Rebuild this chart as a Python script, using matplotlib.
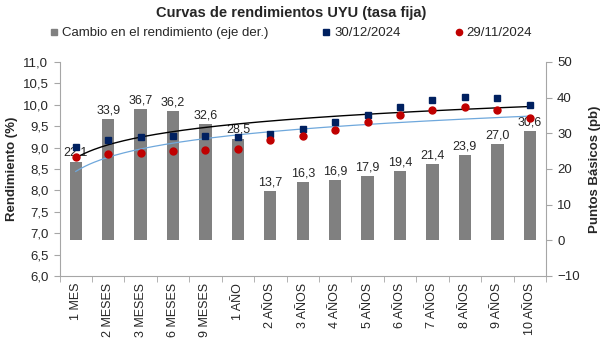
import numpy as np
import matplotlib
matplotlib.use("Agg")
import matplotlib.pyplot as plt
from matplotlib.lines import Line2D
from matplotlib.ticker import FuncFormatter, FixedLocator

plt.rcParams['font.family'] = ['Liberation Sans', 'DejaVu Sans']

categories = ["1 MES", "2 MESES", "3 MESES", "6 MESES", "9 MESES", "1 AÑO",
              "2 AÑOS", "3 AÑOS", "4 AÑOS", "5 AÑOS", "6 AÑOS", "7 AÑOS",
              "8 AÑOS", "9 AÑOS", "10 AÑOS"]
yield_dec = [9.02, 9.18, 9.25, 9.28, 9.26, 9.25, 9.31, 9.43, 9.59, 9.77,
             9.96, 10.11, 10.19, 10.16, 9.99]
yield_nov = [8.79, 8.85, 8.88, 8.92, 8.94, 8.97, 9.17, 9.26, 9.42, 9.60,
             9.77, 9.89, 9.94, 9.88, 9.68]
change_bp = [22.1, 33.9, 36.7, 36.2, 32.6, 28.5, 13.7, 16.3, 16.9, 17.9,
             19.4, 21.4, 23.9, 27.0, 30.6]

label_dec = "30/12/2024"
label_nov = "29/11/2024"
label_bar = "Cambio en el rendimiento (eje der.)"

GRAY = "#808080"
NAVY = "#002060"
RED = "#C00000"
SPINE = "#A6A6A6"
TXT = "#262626"

fig = plt.figure(figsize=(6.03, 3.52), dpi=100)
ax = fig.add_axes([59.5 / 603, 1 - 276 / 352, 486.5 / 603, 214 / 352])
ax2 = ax.twinx()

x = np.arange(len(categories))

# bars on right axis
bars = ax2.bar(x, change_bp, width=0.38, color=GRAY, zorder=2)
ax2.bar_label(bars, labels=[f"{v:.1f}".replace(".", ",") for v in change_bp],
              padding=2, fontsize=9, color=TXT)
ax2.set_ylim(-10, 50)
ax2.yaxis.set_major_locator(FixedLocator(np.arange(-10, 51, 10)))

# left axis: markers and log trendlines
ax.set_zorder(ax2.get_zorder() + 1)
ax.patch.set_visible(False)

xi = np.arange(1, len(categories) + 1)
xs = np.linspace(1, len(categories), 200)
for ys, col, lw in [(yield_dec, "black", 1.0), (yield_nov, "#6FA8DC", 0.9)]:
    a, b = np.polyfit(np.log(xi), np.array(ys), 1)
    ax.plot(xs - 1, a * np.log(xs) + b, color=col, lw=lw, zorder=2)

ax.plot(x, yield_dec, linestyle="none", marker="s", ms=4.6, color=NAVY, zorder=3)
ax.plot(x, yield_nov, linestyle="none", marker="o", ms=5.0, color=RED, zorder=3)

ax.set_ylim(6, 11)
ax.yaxis.set_major_locator(FixedLocator(np.arange(6, 11.01, 0.5)))
ax.yaxis.set_major_formatter(FuncFormatter(lambda v, p: f"{v:.1f}".replace(".", ",")))
ax.set_xlim(-0.5, len(categories) - 0.5)
ax.set_xticks(x)
ax.set_xticklabels(categories, rotation=90, fontsize=9, color=TXT)
ax.set_xticks(np.arange(-0.5, len(categories), 1), minor=True)
ax.tick_params(axis="x", which="major", length=0, pad=5)
ax.tick_params(axis="x", which="minor", length=4, color=SPINE, direction="out")
ax.tick_params(axis="y", length=4, color=SPINE, labelsize=9.5, labelcolor=TXT, pad=4)
ax2.tick_params(axis="y", length=4, color=SPINE, labelsize=9.5, labelcolor=TXT, pad=4)

for a_ in (ax, ax2):
    a_.spines["top"].set_visible(False)
    for s in ("left", "right", "bottom"):
        a_.spines[s].set_color(SPINE)
ax.spines["right"].set_visible(False)
ax2.spines["left"].set_visible(False)
ax2.spines["bottom"].set_visible(False)

ax.set_ylabel("Rendimiento (%)", fontsize=9.5, fontweight="bold", color=TXT, labelpad=3)
ax2.set_ylabel("Puntos Básicos (pb)", fontsize=9.5, fontweight="bold", color=TXT,
               rotation=90, labelpad=7)

fig.text(0.483, 0.963, "Curvas de rendimientos UYU (tasa fija)", ha="center",
         va="center", fontsize=10.5, fontweight="bold", color=TXT)

handles = [
    Line2D([], [], linestyle="none", marker="s", ms=4.5, color=GRAY),
    Line2D([], [], linestyle="none", marker="s", ms=4.5, color=NAVY),
    Line2D([], [], linestyle="none", marker="o", ms=4.5, color=RED),
]
fig.legend(handles, [label_bar, label_dec, label_nov], loc="center",
           bbox_to_anchor=(0.4826, 0.906), ncol=3, frameon=False, fontsize=9.5,
           handlelength=0.6, handletextpad=0.3, columnspacing=4.1,
           labelcolor=TXT, borderpad=0)

fig.savefig("out.png", dpi=100)
